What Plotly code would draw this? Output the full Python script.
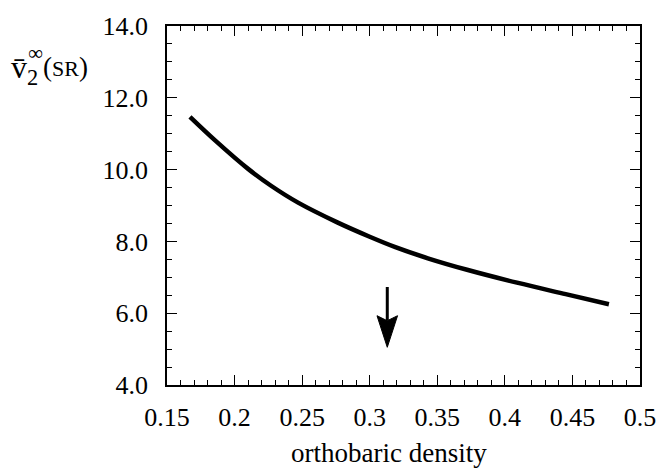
import plotly.graph_objects as go

# data
density = [0.167, 0.186, 0.210, 0.227, 0.247, 0.276, 0.300, 0.319, 0.343, 0.372, 0.409, 0.445, 0.477]
v2_sr = [11.47, 10.80, 10.02, 9.55, 9.08, 8.53, 8.13, 7.84, 7.53, 7.21, 6.85, 6.53, 6.25]

# arrow marker (critical density) in data units
arrow_x = 0.313
arrow_top = 6.73
arrow_tip = 5.05
head_len = 0.88
head_notch = 0.74
head_halfw = 0.0076

x_range = [0.15, 0.5]
y_range = [4.0, 14.0]

FONT = "Liberation Serif"

fig = go.Figure()
fig.add_trace(go.Scatter(
    x=density, y=v2_sr, mode="lines",
    line=dict(color="black", width=4.5, shape="spline", smoothing=1.0),
    hoverinfo="skip", showlegend=False,
))

fig.add_shape(type="line", xref="x", yref="y",
              x0=arrow_x, x1=arrow_x, y0=arrow_top, y1=arrow_tip + head_notch,
              line=dict(color="black", width=3))
fig.add_shape(type="path", xref="x", yref="y",
              path=(f"M {arrow_x - head_halfw},{arrow_tip + head_len} "
                    f"L {arrow_x},{arrow_tip} "
                    f"L {arrow_x + head_halfw},{arrow_tip + head_len} "
                    f"L {arrow_x},{arrow_tip + head_notch} Z"),
              fillcolor="black", line=dict(color="black", width=1))

axis_common = dict(
    showline=True, linecolor="black", linewidth=1.5, mirror="allticks",
    ticks="inside", tickcolor="black", tickwidth=1.3, ticklen=10,
    showgrid=False, zeroline=False,
    tickfont=dict(family=FONT, size=26, color="black"),
)

fig.update_xaxes(range=x_range, dtick=0.05, tick0=0.15,
                 minor=dict(dtick=0.01, ticks="inside", ticklen=5, tickcolor="black", tickwidth=1.2, showgrid=False),
                 ticklabelstandoff=8, **axis_common)
fig.update_yaxes(range=y_range, dtick=2, tick0=4, tickformat=".1f",
                 minor=dict(dtick=0.5, ticks="inside", ticklen=5, tickcolor="black", tickwidth=1.2, showgrid=False),
                 ticklabelstandoff=12, **axis_common)

L, R, T, B = 167, 19, 22, 86
W, H = 668, 471
pw, ph = W - L - R, H - T - B

def px(xp):
    return (xp - L) / pw

def py(yp):
    return (H - B - yp) / ph

ann = [
    dict(text="orthobaric density", x=px(393), y=py(454), size=27),
    dict(text="v\u0304<sub>2</sub>", x=px(22), y=py(66), size=32),
    dict(text="\u221e", x=px(33), y=py(49), size=21),
    dict(text="(<span style='font-size:22px'>SR</span>)", x=px(64), y=py(63), size=27),
]
for a in ann:
    fig.add_annotation(text=a["text"], x=a["x"], y=a["y"], xref="paper", yref="paper",
                       showarrow=False, xanchor="center", yanchor="middle",
                       font=dict(family=FONT, size=a["size"], color="black"))

fig.update_layout(
    width=W, height=H,
    margin=dict(l=L, r=R, t=T, b=B),
    paper_bgcolor="white", plot_bgcolor="white",
    showlegend=False,
)

fig.write_html("out.html")
